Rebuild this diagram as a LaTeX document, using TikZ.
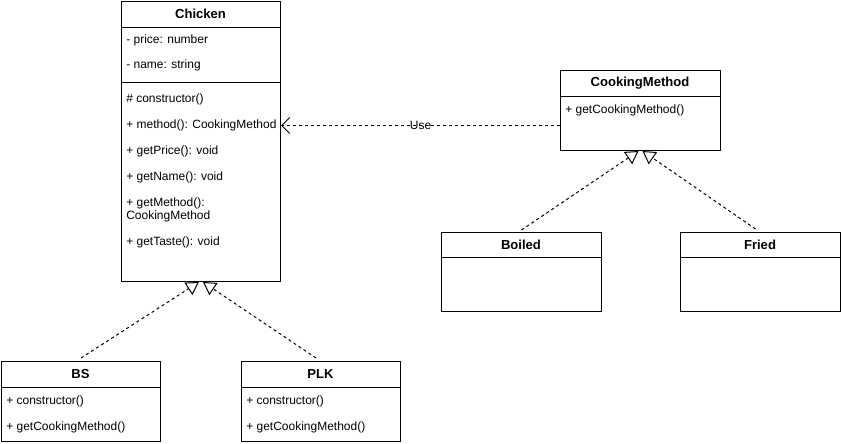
\documentclass[tikz,border=0pt]{standalone}
\usepackage{fontspec}
\setmainfont{Liberation Sans}
\usepackage{tikz}
\usetikzlibrary{arrows.meta,calc}
\tikzset{
  class box/.style={
    draw,
    rectangle,
    line width=0.75pt,
    anchor=north west,
    inner sep=0pt,
    minimum width=120pt
  },
  class title/.style={
    font=\fontsize{9.8}{11}\selectfont\bfseries,
    inner sep=0pt
  },
  class item/.style={
    anchor=west,
    font=\fontsize{9}{11}\selectfont,
    inner sep=0pt
  },
  sep line/.style={
    line width=0.75pt
  },
  realize arrow/.style={
    -{Triangle[open,length=9.5pt,width=11pt]},
    line width=0.75pt,
    dash pattern=on 2.25pt off 2.25pt
  },
  use arrow/.style={
    -{Straight Barb[length=6pt,width=12pt,line width=0.75pt]},
    line width=0.75pt,
    dash pattern=on 2.25pt off 2.25pt,
    font=\fontsize{9}{11}\selectfont
  }
}

\begin{document}
\begin{tikzpicture}[x=0.75pt,y=-0.75pt]
  \useasboundingbox (0,0) rectangle (841,443);

  % Chicken class
  \node[class box, minimum width=119.25pt, minimum height=210pt] (chicken) at (121,1) {};
  \node[class title] (chtitle) at (200.5,14) {Chicken};
  \draw[sep line] (121,27) -- (280,27);
  \node[class item] (chprice) at (126,40) {- price: number};
  \node[class item] (chname) at (126,65) {- name: string};
  \draw[sep line] (121,82) -- (280,82);
  \node[class item] (chcons) at (126,99) {\# constructor()};
  \node[class item] (chmeth) at (126,125) {+ method(): CookingMethod};
  \node[class item] (chprice2) at (126,151) {+ getPrice(): void};
  \node[class item] (chname2) at (126,177) {+ getName(): void};
  \node[class item] (chgetm) at (126,203) {+ getMethod():};
  \node[class item] (chgetm2) at (126,216) {CookingMethod};
  \node[class item] (chtaste) at (126,242) {+ getTaste(): void};

  % CookingMethod interface
  \node[class box, minimum height=60pt] (cooking) at (560,70) {};
  \node[class title] (cktitle) at (640,83) {CookingMethod};
  \draw[sep line] (560,96) -- (720,96);
  \node[class item] (ckget) at (565,110) {+ getCookingMethod()};

  % Boiled and Fried
  \node[class box, minimum height=59.25pt] (boiled) at (441,232) {};
  \node[class title] (bltitle) at (521,244.5) {Boiled};
  \draw[sep line] (441,257) -- (601,257);
  \node[class box, minimum height=59.25pt] (fried) at (680,232) {};
  \node[class title] (frtitle) at (760,244.5) {Fried};
  \draw[sep line] (680,257) -- (840,257);

  % BS and PLK
  \node[class box, minimum width=119.25pt, minimum height=60pt] (bs) at (1,361) {};
  \node[class title] (bstitle) at (80.5,374) {BS};
  \draw[sep line] (1,387) -- (160,387);
  \node[class item] (bscons) at (6,401) {+ constructor()};
  \node[class item] (bsget) at (6,427) {+ getCookingMethod()};
  \node[class box, minimum width=119.25pt, minimum height=60pt] (plk) at (241,361) {};
  \node[class title] (plktitle) at (320.5,374) {PLK};
  \draw[sep line] (241,387) -- (400,387);
  \node[class item] (plkcons) at (246,401) {+ constructor()};
  \node[class item] (plkget) at (246,427) {+ getCookingMethod()};

  % Connections
  \coordinate (usefrom) at ($(cooking.west)+(0,15)$);
  \draw[use arrow] (usefrom) -- node {Use} (usefrom -| chicken.east);
  \draw[realize arrow] ($(boiled.north)+(0,-2)$) -- ($(cooking.south)+(-2,0)$);
  \draw[realize arrow] ($(fried.north)+(-5,-3)$) -- ($(cooking.south)+(2,0)$);
  \draw[realize arrow] ($(bs.north)+(0,-3)$) -- ($(chicken.south)+(-2,0)$);
  \draw[realize arrow] ($(plk.north)+(-5,-3)$) -- ($(chicken.south)+(2,0)$);

\end{tikzpicture}
\end{document}
